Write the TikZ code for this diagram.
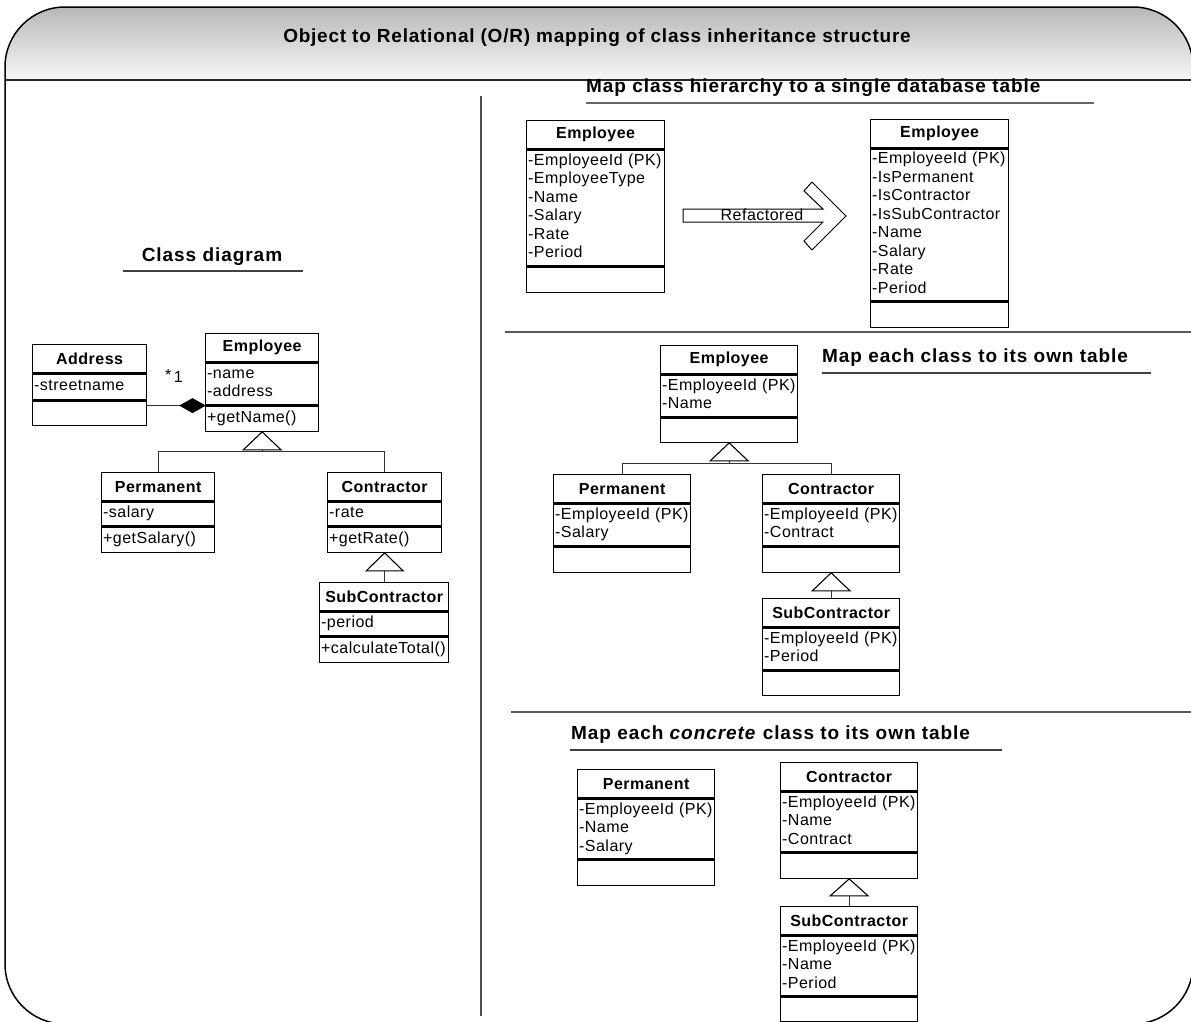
\documentclass[tikz,border=0pt]{standalone}
\usepackage{fontspec}
\setmainfont{Liberation Sans}
\newfontfamily\trkL[LetterSpace=3]{Liberation Sans}
\newfontfamily\trkR[LetterSpace=3]{Liberation Sans}
\newfontfamily\trkH[LetterSpace=5]{Liberation Sans}
\newfontfamily\trkT[LetterSpace=4]{Liberation Sans}
\usetikzlibrary{calc}

\newcommand\umlTfont{\trkR\bfseries\fontsize{16}{18.5}\selectfont}
\newcommand\umlAfont{\trkR\fontsize{16}{18.5}\selectfont}

\tikzset{
  ttl/.style={draw, line width=1.3pt, minimum height=28, inner sep=0pt, anchor=north west, font=\umlTfont},
  att/.style={draw, line width=1.3pt, inner xsep=1.5pt, inner ysep=0pt, anchor=north west, align=left,
              font=\umlAfont, execute at begin node=\strut, execute at end node=\strut},
  conn/.style={draw=black!80, line width=1.1pt},
  tri/.style={draw=black, line width=1.1pt, fill=white, line join=miter},
  hd/.style={font=\trkH\bfseries\fontsize{19}{21}\selectfont, inner sep=0pt},
  uline/.style={draw=black!75, line width=1.3pt},
  sepline/.style={draw=black!65, line width=1.8pt},
}

% #1 name, #2 (x,y), #3 width, #4 attr height, #5 method height, #6 title, #7 attrs, #8 methods
\newcommand\umlbox[8]{%
  \pgfmathsetmacro\umltw{#3-3}%
  \node[ttl, minimum width=#3] (#1-t) at #2 {#6};
  \node[att, text width=\umltw pt, minimum height=#4] (#1-a) at (#1-t.south west) {#7};
  \node[att, text width=\umltw pt, minimum height=#5] (#1-m) at (#1-a.south west) {#8};
}

\begin{document}
\begin{tikzpicture}[x=1pt,y=-1pt]
\useasboundingbox (0,0) rectangle (1191,1021);
\clip (0,0) rectangle (1191,1021);

% ---------- frame and header ----------
\begin{scope}
  \clip[rounded corners=60] (5,7) rectangle (1193,1024);
  \shade[top color=black!28, bottom color=black!3] (0,7) rectangle (1193,80);
\end{scope}
\draw[line width=1.5pt, rounded corners=60] (5,7) rectangle (1193,1024);
\draw[line width=1.8pt, black!85] (5,80) -- (1193,80);
\node[font=\trkT\bfseries\fontsize{19}{21}\selectfont, inner sep=0pt] (title) at (597,38)
  {Object to Relational (O/R) mapping of class inheritance structure};

% dividers
\draw[draw=black!70, line width=1.3pt] (481,96) -- (481,1016);
\draw[sepline] (505,332) -- (1193,332);
\draw[sepline] (511,712) -- (1193,712);

% ---------- left: class diagram ----------
\node[hd] (hcd) at (212,257) {Class diagram};
\draw[uline] (123,271) -- (303,271);

\begin{scope}
\renewcommand\umlTfont{\trkL\bfseries\fontsize{16}{18}\selectfont}
\renewcommand\umlAfont{\trkL\fontsize{16}{18}\selectfont}
\umlbox{addr}{(32,344)}{114}{26}{24}{Address}{-streetname}{}
\umlbox{empL}{(205,333)}{113}{42}{25}{Employee}{-name\\-address}{+getName()}
\umlbox{permL}{(101,472)}{113}{24}{25}{Permanent}{-salary}{+getSalary()}
\umlbox{conL}{(327,472)}{114}{24}{25}{Contractor}{-rate}{+getRate()}
\umlbox{subL}{(319,582)}{129}{24}{25}{SubContractor}{-period}{+calculateTotal()}

% composition
\coordinate (dmdL) at (empL-m.north west);
\draw[conn] (dmdL) -- (dmdL -| addr-m.east);
\draw[fill=black, line width=0.8pt] (dmdL) -- ++(-12.5,-7) -- ++(-12.5,7) -- ++(12.5,7) -- cycle;
\node[font=\trkL\fontsize{16}{18}\selectfont, inner sep=0pt] (mult) at (174,376) {\raisebox{2pt}{*}\,1};

% generalisation
\coordinate (busL) at ($(empL-m.south)+(0,20)$);
\draw[conn] ($(empL-m.south)+(0,18)$) -- (busL);
\draw[conn] (permL-t.north) |- (busL) -| (conL-t.north);
\draw[tri] (empL-m.south) -- ++(19,18) -- ++(-38,0) -- cycle;
\draw[conn] ($(conL-m.south)+(0,18)$) -- (conL-m.south |- subL-t.north);
\draw[tri] (conL-m.south) -- ++(18.5,18) -- ++(-37,0) -- cycle;
\end{scope}

% ---------- right top: single table ----------
\node[hd, anchor=west] (h1) at (586,88) {Map class hierarchy to a single database table};
\draw[uline, draw=black!60] (586,103) -- (1094,103);

\umlbox{t1}{(526,120)}{138}{116}{25}{Employee}{-EmployeeId (PK)\\-EmployeeType\\-Name\\-Salary\\-Rate\\-Period}{}
\umlbox{t2}{(870,119)}{138}{152}{25}{Employee}{-EmployeeId (PK)\\-IsPermanent\\-IsContractor\\-IsSubContractor\\-Name\\-Salary\\-Rate\\-Period}{}

\draw[line width=1pt, fill=white, line join=miter]
  (683,209) -- (823,209) -- (804,191) -- (812,182) -- (846,216) -- (812,250) -- (804,241) -- (823,222) -- (683,222) -- cycle;
\node[font=\umlAfont, inner sep=0pt] (refl) at (762,215) {Refactored};

% ---------- right middle: each class own table ----------
\node[hd, anchor=west] (h2) at (822,358) {Map each class to its own table};
\draw[uline] (822,373) -- (1151,373);

\umlbox{empM}{(660,345)}{137}{42}{24}{Employee}{-EmployeeId (PK)\\-Name}{}
\umlbox{permM}{(553,474)}{137}{42}{25}{Permanent}{-EmployeeId (PK)\\-Salary}{}
\umlbox{conM}{(762,474)}{137}{42}{25}{Contractor}{-EmployeeId (PK)\\-Contract}{}
\umlbox{subM}{(762,598)}{137}{42}{24}{SubContractor}{-EmployeeId (PK)\\-Period}{}

\coordinate (busM) at ($(empM-m.south)+(0,21)$);
\draw[conn] ($(empM-m.south)+(0,18)$) -- (busM);
\draw[conn] (permM-t.north) |- (busM) -| (conM-t.north);
\draw[tri] (empM-m.south) -- ++(19,18) -- ++(-38,0) -- cycle;
\draw[conn] ($(conM-m.south)+(0,18)$) -- (conM-m.south |- subM-t.north);
\draw[tri] (conM-m.south) -- ++(19,18) -- ++(-38,0) -- cycle;

% ---------- right bottom: each concrete class own table ----------
\node[hd, anchor=west] (h3) at (571,735) {Map each \textit{concrete} class to its own table};
\draw[uline] (570,750) -- (1002,750);

\umlbox{permB}{(577,769)}{137}{60}{25}{Permanent}{-EmployeeId (PK)\\-Name\\-Salary}{}
\umlbox{conB}{(780,762)}{137}{60}{25}{Contractor}{-EmployeeId (PK)\\-Name\\-Contract}{}
\umlbox{subB}{(780,906)}{137}{60}{24}{SubContractor}{-EmployeeId (PK)\\-Name\\-Period}{}

\draw[conn] ($(conB-m.south)+(0,17)$) -- (conB-m.south |- subB-t.north);
\draw[tri] (conB-m.south) -- ++(19,17) -- ++(-38,0) -- cycle;

\end{tikzpicture}
\end{document}
